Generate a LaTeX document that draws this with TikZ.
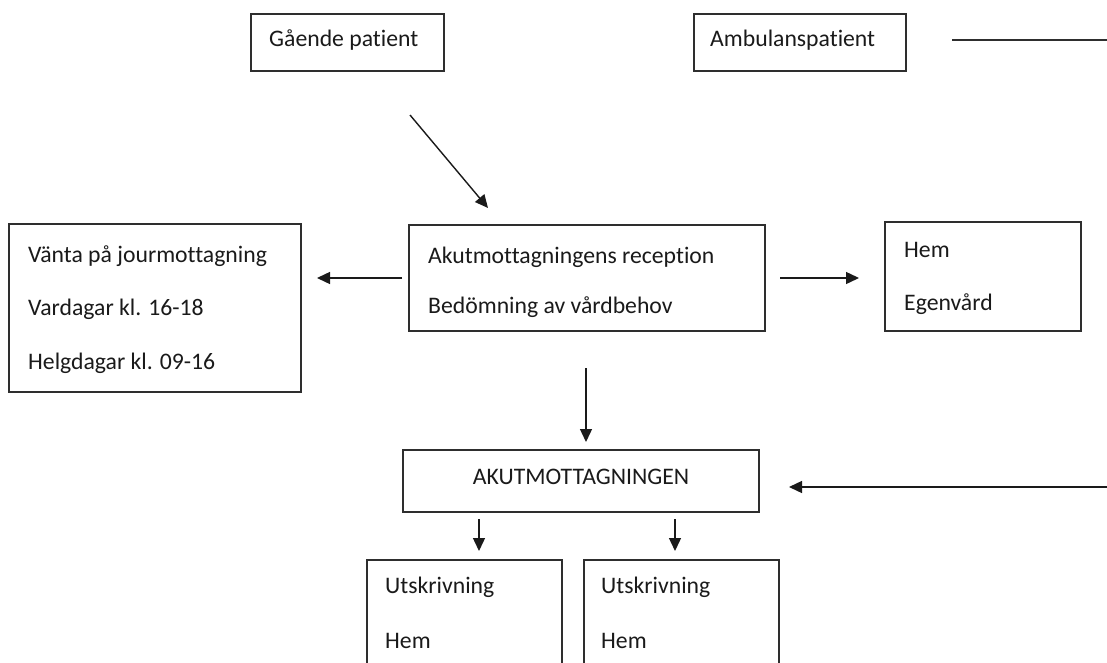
\documentclass[tikz,border=0pt]{standalone}
\usepackage{fontspec}
\setmainfont{Carlito}[Ligatures=NoCommon]
\usetikzlibrary{arrows.meta}
\definecolor{ink}{HTML}{1A1A1A}
\definecolor{frame}{HTML}{2E2E2E}
\begin{document}
\begin{tikzpicture}[x=1pt,y=-1pt,
  box/.style={draw=frame, line width=1.3pt, inner sep=0pt, outer sep=0pt, anchor=north west},
  txt/.style={anchor=base west, inner sep=0pt, text=ink, font=\fontsize{23.7}{28}\selectfont},
  link/.style={draw=ink, line width=1.4pt},
  arr/.style={link, -{Triangle[length=13pt,width=12pt]}}]
\useasboundingbox (0,0) rectangle (1107,663);
\clip (0,0) rectangle (1107,663);
\fill[white] (0,0) rectangle (1107,663);

% top boxes
\node[box, minimum width=193pt, minimum height=57pt] (gp) at (251,14) {};
\node[txt] (gpt) at (269,47) {Gående patient};
\node[box, minimum width=212pt, minimum height=57pt] (ap) at (694,14) {};
\node[txt] (apt) at (710,47) {Ambulanspatient};

% middle row
\node[box, minimum width=292pt, minimum height=168pt] (vj) at (9,224) {};
\node[txt] (vj1) at (28,262) {Vänta på jourmottagning};
\node[txt] (vj2) at (28,315) {Vardagar kl. 16-18};
\node[txt] (vj3) at (28,369) {Helgdagar kl. 09-16};

\node[box, minimum width=356pt, minimum height=106pt] (ar) at (409,225) {};
\node[txt] (ar1) at (428,263) {Akutmottagningens reception};
\node[txt] (ar2) at (428,313) {Bedömning av vårdbehov};

\node[box, minimum width=196pt, minimum height=109pt] (he) at (885,222) {};
\node[txt] (he1) at (904,257) {Hem};
\node[txt] (he2) at (904,310) {Egenvård};

% AKUTMOTTAGNINGEN
\node[box, minimum width=356pt, minimum height=62pt] (am) at (403,450) {};
\node[anchor=base, inner sep=0pt, text=ink, font=\fontsize{23.7}{28}\selectfont] (amt) at (581,484) {AKUTMOTTAGNINGEN};

% bottom boxes
\node[box, minimum width=195pt, minimum height=130pt] (u1) at (367,560) {};
\node[txt] (u1a) at (385,593) {Utskrivning};
\node[txt] (u1b) at (385,648) {Hem};
\node[box, minimum width=195pt, minimum height=130pt] (u2) at (584,560) {};
\node[txt] (u2a) at (601,593) {Utskrivning};
\node[txt] (u2b) at (601,648) {Hem};

% connector end points
\coordinate (d0) at (410,115);
\coordinate (d1) at (488,208);
\coordinate (l0) at (402,278);
\coordinate (l1) at (317,278);
\coordinate (r0) at (780,278);
\coordinate (r1) at (859,278);
\coordinate (v0) at (586,368);
\coordinate (v1) at (586,442);
\coordinate (e0) at (1107,487);
\coordinate (e1) at (789,487);
\coordinate (s0) at (479,519);
\coordinate (s1) at (479,551);
\coordinate (t0) at (675,519);
\coordinate (t1) at (675,551);
\coordinate (h0) at (952,40);
\coordinate (h1) at (1107,40);

\draw[arr] (d0) -- (d1);
\draw[arr] (l0) -- (l1);
\draw[arr] (r0) -- (r1);
\draw[arr] (v0) -- (v1);
\draw[arr] (e0) -- (e1);
\draw[arr] (s0) -- (s1);
\draw[arr] (t0) -- (t1);
\draw[link, draw=frame] (h0) -- (h1);
\end{tikzpicture}
\end{document}
